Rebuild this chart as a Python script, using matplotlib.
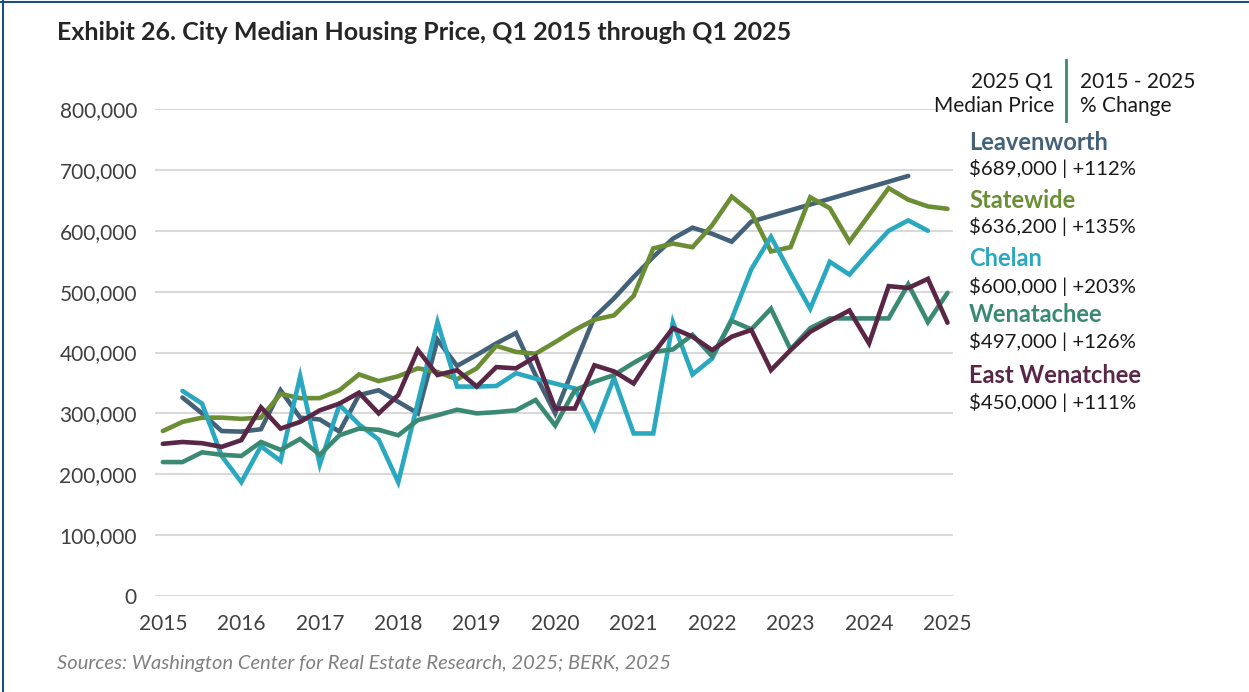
import numpy as np
import matplotlib.pyplot as plt
from matplotlib.lines import Line2D

plt.rcParams['font.family'] = ['Lato', 'DejaVu Sans']

# quarterly, Q1 2015 .. Q1 2025 (values in $ thousands, None = no data)
years = 2015 + np.arange(41) / 4

leavenworth = [None, 326, 300, 271, 270, 274, 338, 293, 290, 270,
               330, 338, 319, 300, 421, 378, 396, 415, 432, 363,
               300, 380, 458, 489, 524, 557, 587, 605, 595, 582,
               615, None, None, None, None, None, None, None, 690, None,
               None]
statewide = [271, 286, 293, 293, 291, 293, 332, 325, 325, 338,
             364, 353, 361, 374, 368, 356, 374, 411, 401, 398,
             417, 437, 454, 461, 493, 571, 579, 573, 609, 656,
             630, 566, 573, 655, 637, 582, 626, 670, 651, 640,
             636]
chelan = [None, 337, 316, 230, 187, 246, 222, 361, 216, 314,
          282, 257, 187, 318, 450, 344, 344, 345, 366, 357,
          349, 341, 275, 358, 267, 267, 450, 364, 390, 455,
          537, 590, 530, 472, 549, 528, 565, 600, 617, 600,
          None]
wenatchee = [220, 220, 236, 232, 230, 253, 240, 258, 232, 264,
             275, 273, 264, 289, 297, 306, 300, 302, 305, 322,
             280, 338, 352, 363, 383, 401, 405, 429, 394, 452,
             438, 472, 405, 440, 456, 456, 456, 456, 512, 450,
             498]
east_wenatchee = [250, 253, 251, 245, 256, 310, 275, 286, 305, 316,
                  334, 300, 330, 404, 363, 371, 344, 376, 374, 393,
                  308, 308, 379, 369, 349, 398, 440, 426, 404, 426,
                  437, 371, 404, 434, 452, 469, 415, 509, 506, 521,
                  449]

names = ['Leavenworth', 'Statewide', 'Chelan', 'Wenatachee', 'East Wenatchee']
latest = ['$689,000', '$636,200', '$600,000', '$497,000', '$450,000']
pct = ['+112%', '+135%', '+203%', '+126%', '+111%']
colors = ['#43627a', '#6b8e35', '#2aa8c0', '#3a8a73', '#5a2646']
data = [leavenworth, statewide, chelan, wenatchee, east_wenatchee]

fig = plt.figure(figsize=(12.49, 6.92), dpi=100)
ax = fig.add_axes([155 / 1249, 1 - 596 / 692, 798 / 1249, 487 / 692])

for vals, c in zip(data, colors):
    v = np.array([np.nan if x is None else x * 1000 for x in vals])
    ok = ~np.isnan(v)
    ax.plot(years[ok], v[ok], color=c, lw=3.3, solid_joinstyle='miter',
            solid_capstyle='round')

ax.set_xlim(2014.9, 2025.07)
ax.set_ylim(0, 800000)
ax.set_xticks(range(2015, 2026))
ax.set_yticks(range(0, 800001, 100000))
ax.yaxis.set_major_formatter(lambda v, p: f'{int(v):,}')
ax.grid(axis='y', color='#d9d9d9', lw=1.5)
ax.set_axisbelow(True)
for s in ax.spines.values():
    s.set_visible(False)
ax.tick_params(length=0, labelsize=15, colors='#404040')
ax.tick_params(axis='x', pad=13)
ax.tick_params(axis='y', pad=13)

fig.text(57 / 1249, 1 - 33 / 692, 'Exhibit 26. City Median Housing Price, Q1 2015 through Q1 2025',
         fontsize=18, fontweight='bold', color='#262626', va='center')
fig.text(57 / 1249, 1 - 664 / 692,
         'Sources: Washington Center for Real Estate Research, 2025; BERK, 2025',
         fontsize=14.5, style='italic', color='#808080', va='center')

# header of the side legend
hdr = dict(va='center', fontsize=15, color='#1a1a1a')
fig.text(1054 / 1249, 1 - 82 / 692, '2025 Q1', ha='right', **hdr)
fig.text(1054 / 1249, 1 - 106 / 692, 'Median Price', ha='right', **hdr)
fig.text(1080 / 1249, 1 - 82 / 692, '2015 - 2025', ha='left', **hdr)
fig.text(1080 / 1249, 1 - 106 / 692, '% Change', ha='left', **hdr)
fig.add_artist(Line2D([1066 / 1249] * 2, [1 - 60 / 692, 1 - 121 / 692], color='#3a8a73', lw=2))

name_y = [142, 200, 259, 315, 376]
for n, p, c, y, l in zip(names, pct, colors, name_y, latest):
    fig.text(969 / 1249, 1 - y / 692, n, fontsize=17, fontweight='bold', color=c, va='center')
    fig.text(969 / 1249, 1 - (y + 27) / 692, f'{l} | {p}', fontsize=14.7, color='#1a1a1a', va='center')

# frame of the exhibit
fig.add_artist(Line2D([3 / 1249, 3 / 1249], [0, 1], color='#1f4e79', lw=1.5))
fig.add_artist(Line2D([0, 1], [1 - 2 / 692, 1 - 2 / 692], color='#1f4e79', lw=1.5))

fig.savefig('out.png', dpi=100)
